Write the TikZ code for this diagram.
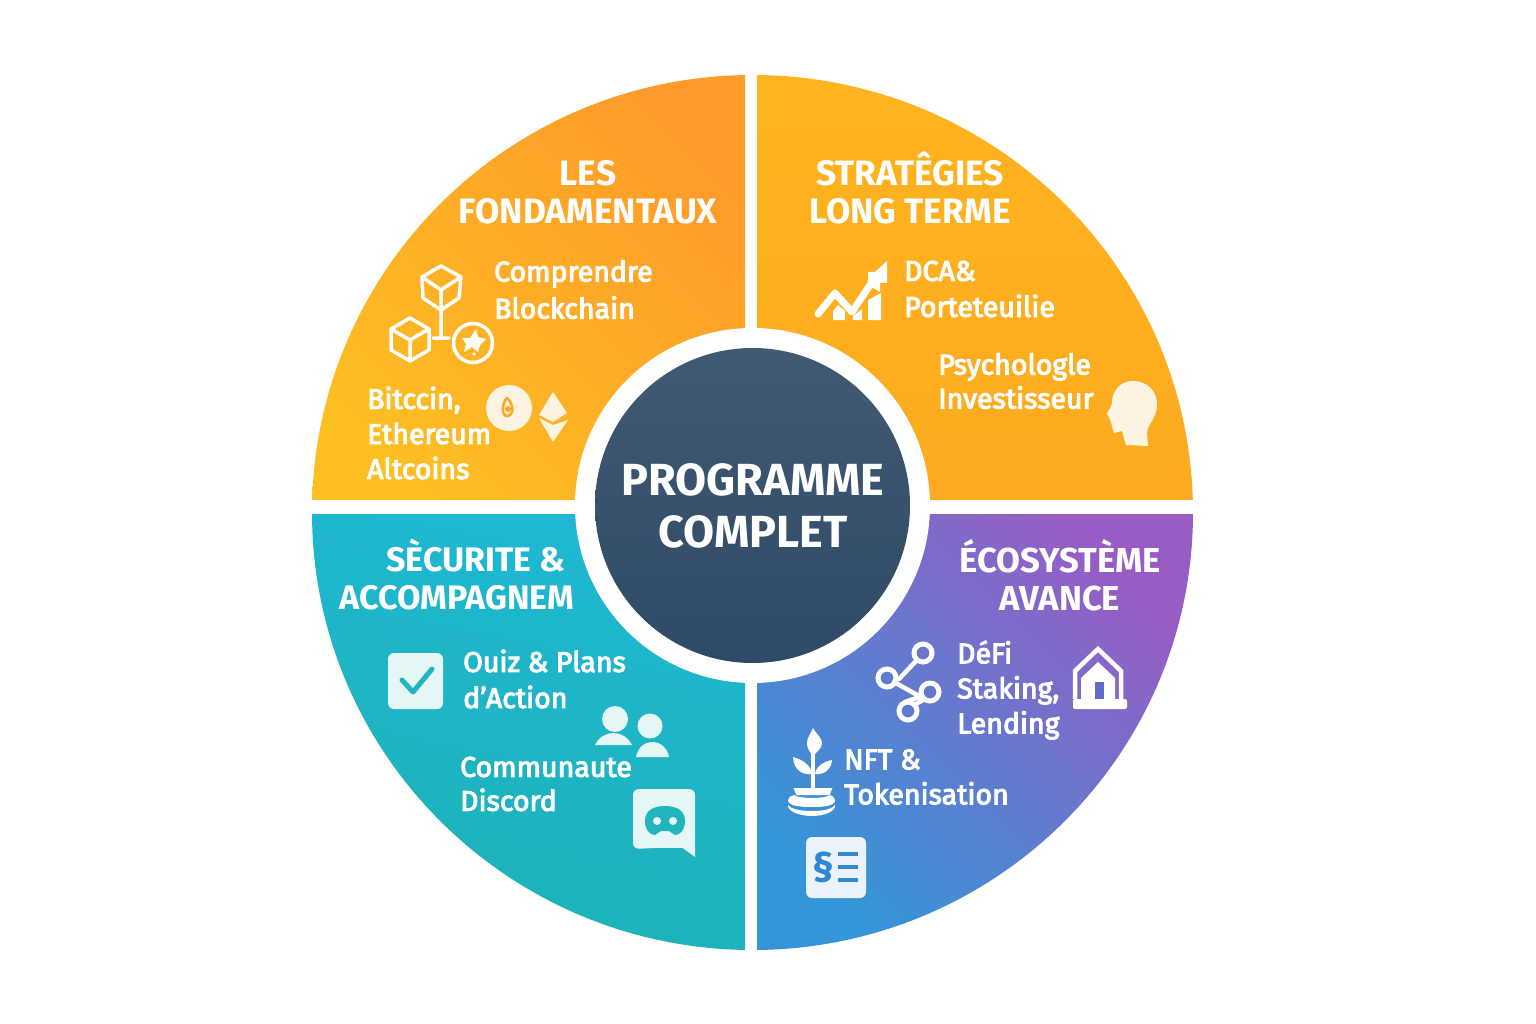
\documentclass[tikz,border=0pt]{standalone}
\usepackage{fontspec}
\setmainfont{Fira Sans}
\newfontfamily\bodyfont[FakeBold=3.5]{Fira Sans}
\usetikzlibrary{shapes.geometric}
\definecolor{cream}{HTML}{FDF3E2}
\definecolor{iceA}{HTML}{E4F6F6}
\definecolor{iceB}{HTML}{EAF3FB}
\definecolor{tealI}{HTML}{22B5C0}
\definecolor{blueI}{HTML}{2E87D0}
\definecolor{orI}{HTML}{F7A928}
\definecolor{purI}{HTML}{5E6BCB}
\definecolor{qA1}{RGB}{253,190,34}
\definecolor{qA2}{RGB}{255,155,42}
\definecolor{qB1}{RGB}{255,180,30}
\definecolor{qB2}{RGB}{253,170,32}
\definecolor{qC1}{RGB}{31,183,211}
\definecolor{qC2}{RGB}{28,178,182}
\definecolor{qD1}{RGB}{50,150,216}
\definecolor{qD2}{RGB}{90,115,206}
\definecolor{qD3}{RGB}{152,92,196}
\definecolor{hubA}{RGB}{65,90,116}
\definecolor{hubB}{RGB}{46,74,102}
\tikzset{
  titlelabel/.style={inner sep=0pt,align=center,text=white,font=\fontsize{#1}{38}\selectfont\bfseries},
  titlelabel/.default=35.3,
  bodylabel/.style={inner sep=0pt,align=left,anchor=west,text=white,font=\fontsize{28.5}{#1}\selectfont\bodyfont},
  bodylabel/.default=35,
  iconline/.style={draw=white,line width=3.5pt,line join=round,line cap=round},
}
\begin{document}
\begin{tikzpicture}[x=1pt,y=-1pt]
\useasboundingbox (0,0) rectangle (1536,1024);
\fill[white] (0,0) rectangle (1536,1024);
% quadrants
\begin{scope}
\clip (752.5,512.5) circle [x radius=440.5pt,y radius=437.5pt];
\shade[left color=qA2,right color=qA1,shading angle=-45] (312,70) rectangle (745,499);
\shade[top color=qB1,bottom color=qB2] (757,70) rectangle (1195,499);
\shade[top color=qC1,bottom color=qC2,shading angle=-12] (310,514) rectangle (745,955);
\shade[left color=qD3,middle color=qD2,right color=qD1,shading angle=-45] (757,514) rectangle (1195,955);
\end{scope}
\fill[white] (752.5,505.5) circle [radius=177.5pt];
\shade[top color=hubA,bottom color=hubB] (752.5,505.5) circle [radius=157.5pt];
% centre
\node[inner sep=0pt,align=center,text=white,font=\fontsize{45}{52}\selectfont\bfseries] (centre) at (753,506) {PROGRAMME\\COMPLET};
% titles
\node[titlelabel] (t1) at (588,192) {LES\\FONDAMENTAUX};
\node[titlelabel] (t2) at (910,188) {STRATÊGIES\\LONG TERME};
\node[titlelabel=34] (t3) at (457,575) {\hspace*{38pt}SÈCURITE \&\\ACCOMPAGNEM};
\node[titlelabel=34.6] (t4) at (1060,575) {ÉCOSYSTÈME\\AVANCE};
% body labels
\node[bodylabel=37] (a1) at (494,289.5) {Comprendre\\Blockchain};
\node[bodylabel] (a2) at (367,433) {Bitccin,\\Ethereum\\Altcoins};
\node[bodylabel=36] (b1) at (904,289) {DCA\&\\Porteteuilie};
\node[bodylabel=34] (b2) at (938,381) {Psychologle\\Investisseur};
\node[bodylabel=36] (c1) at (463,679) {Ouiz \& Plans\\d’Action};
\node[bodylabel=34] (c2) at (460,784) {Communaute\\Discord};
\node[bodylabel] (d1) at (957,690) {DéFi\\Staking,\\Lending};
\node[bodylabel] (d2) at (844,777) {NFT \&\\Tokenisation};
% cubes
\draw[iconline] (441,266)--(461,277)--(459,298)--(441,310)--(423,298)--(422,277)--cycle (422,277)--(441,290)--(461,277) (441,290)--(441,338) (433,338)--(449,338);
\draw[iconline] (410,318)--(429,329)--(429,350)--(410,361)--(391,350)--(391,329)--cycle (391,329)--(410,340)--(429,329) (410,340)--(410,361);
\draw[iconline] (473,343) circle [radius=19.5pt];
\fill[white] (476,329)--(478,337)--(486,339)--(480,345)--(478,352)--(472,347)--(464,352)--(466,344)--(462,338)--(470,338)--cycle;
\fill[white] (474,354) circle [radius=1.8pt];
% coin, ethereum
\fill[cream] (509,408) circle [radius=23pt];
\draw[orI,line width=2.6pt,line join=round] (507,398) .. controls (514,404) and (514,416) .. (507,416) .. controls (501,416) and (502,403) .. (507,398) -- cycle;
\fill[orI] (508,409) circle [radius=3pt];
\fill[cream] (553,392)--(567,413)--(553,422)--(539,415)--cycle;
\fill[cream] (539,418)--(553,425)--(568,420)--(553,442)--cycle;
% chart
\draw[white,line width=7pt,line cap=round,line join=round] (818,314)--(835,293)--(852,312)--(874,279);
\fill[white] (887,261)--(887,283)--(880,283)--(880,292)--(868,285)--(868,272)--(875,272)--cycle;
\fill[white] (833,320)--(833,311)--(838,305)--(845,311)--(845,320)--cycle;
\fill[white] (853,320)--(853,316)--(862,309)--(862,320)--cycle;
\fill[white] (868,320)--(868,300)--(881,293)--(881,320)--cycle;
% head
\fill[cream] (1133,381) .. controls (1148,381) and (1158,392) .. (1157,407) .. controls (1156,418) and (1148,424) .. (1147,432) -- (1148,446) -- (1126,445) -- (1122,431) -- (1114,433) .. controls (1111,424) and (1111,419) .. (1107,414) .. controls (1108,410) and (1112,407) .. (1112,403) .. controls (1112,391) and (1120,381) .. (1133,381) -- cycle;
% check
\fill[iceA,rounded corners=6pt] (388,653) rectangle (443,709);
\draw[tealI,line width=5pt,line cap=round,line join=round] (402,680)--(413,692)--(432,669);
% people
\fill[iceA] (615,719) circle [radius=13pt];
\fill[iceA] (595,745) .. controls (599,737) and (606,733) .. (613.5,733) .. controls (621,733) and (628,737) .. (632,745) -- cycle;
\fill[iceA] (650,726) circle [radius=12.5pt];
\fill[iceA] (636,757) .. controls (638,747) and (645,742) .. (652,742) .. controls (660,742) and (667,747) .. (669,757) -- cycle;
% chat
\fill[iceA,rounded corners=6pt] (633,789) -- (695,789) -- (695,846) -- (633,849) -- cycle;
\fill[iceA] (680,846) -- (695,846) -- (695,857) -- cycle;
\fill[iceA] (640,840) rectangle (695,848);
\fill[tealI] (645,821) .. controls (645,810) and (654,806) .. (665,806) .. controls (676,806) and (685,810) .. (685,821) .. controls (685,830) and (680,835) .. (675,835) -- (669,831) -- (661,831) -- (655,835) .. controls (650,835) and (645,830) .. (645,821) -- cycle;
\fill[iceA] (657,821) circle [radius=4pt] (673,821) circle [radius=4pt];
% network
\draw[white,line width=4.5pt,line cap=round] (917,660)--(899,679) (894,682)--(919,696) (925,699)--(914,705) (905,702)--(922,696);
\draw[white,line width=5pt,fill=none] (923,653) circle [radius=9pt] (887,678) circle [radius=9pt] (930,692) circle [radius=9pt] (908,711) circle [radius=9pt];
% house
\draw[white,line width=4.5pt,line join=miter] (1075,699)--(1075,671)--(1098,649)--(1121,671)--(1121,699);
\fill[white] (1098,662)--(1115,678)--(1115,699)--(1081,699)--(1081,678)--cycle;
\fill[purI] (1095,682) rectangle (1104,699);
\fill[white,rounded corners=2pt] (1073,699) rectangle (1127,709);
% plant
\draw[white,line width=3.5pt,line cap=round] (813,752)--(813,790);
\fill[white] (813,728) .. controls (817,735) and (822,738) .. (822,743) .. controls (822,749) and (816,752) .. (813,756) .. controls (810,752) and (807,749) .. (807,743) .. controls (807,738) and (810,735) .. (813,728) -- cycle;
\fill[white] (793,757) .. controls (803,760) and (811,765) .. (812,774) .. controls (803,775) and (794,771) .. (793,757) -- cycle;
\fill[white] (832,760) .. controls (825,761) and (816,766) .. (815,774) .. controls (824,775) and (831,770) .. (832,760) -- cycle;
\draw[white,line width=2pt,fill=white] (795,789) -- (831,789) -- (829,794) -- (797,794) -- cycle;
\fill[white] (788,800) .. controls (788,806) and (800,807) .. (812,807) .. controls (824,807) and (835,806) .. (835,800) .. controls (835,797) and (832,796) .. (830,795) .. controls (825,799) and (800,799) .. (794,795) .. controls (791,796) and (788,797) .. (788,800) -- cycle;
\fill[white] (788,805) .. controls (792,810) and (803,811) .. (812,811) .. controls (821,811) and (831,810) .. (835,805) .. controls (836,811) and (825,816) .. (812,816) .. controls (799,816) and (787,811) .. (788,805) -- cycle;
% document
\fill[iceB,rounded corners=6pt] (806,837) rectangle (866,898);
\node[inner sep=0pt,text=blueI,font=\fontsize{40}{40}\selectfont\bfseries] (sect) at (823,867) {§};
\draw[blueI,line width=3.5pt] (838,854)--(858,854) (838,867)--(858,867) (838,880)--(858,880);
\end{tikzpicture}
\end{document}
